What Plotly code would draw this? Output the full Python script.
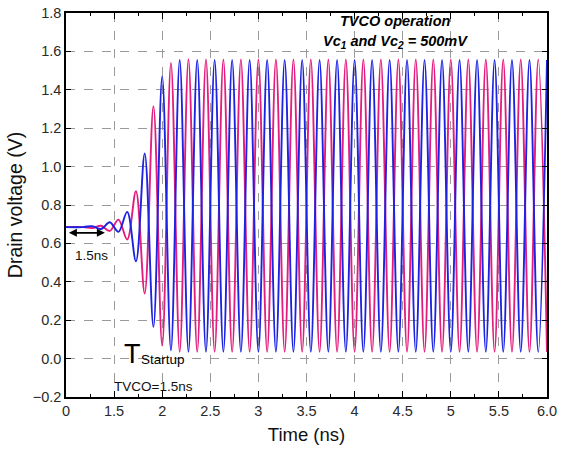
import plotly.graph_objects as go

# Extreme points (peaks / troughs), axis units: ns (axis starts at 1.0, labelled "0"), volts
t_ext = [1.000, 1.180, 1.273, 1.364, 1.455, 1.545, 1.636, 1.727, 1.818, 1.909,
         2.000, 2.091, 2.182, 2.273, 2.364, 2.455, 2.545, 2.636, 2.727, 2.818,
         2.909, 3.000, 3.091, 3.182, 3.273, 3.364, 3.455, 3.545, 3.636, 3.727,
         3.818, 3.909, 4.000, 4.091, 4.182, 4.273, 4.364, 4.455, 4.545, 4.636,
         4.727, 4.818, 4.909, 5.000, 5.091, 5.182, 5.273, 5.364, 5.455, 5.545,
         5.636, 5.727, 5.818, 5.909, 6.000]

blue_v = [0.685, 0.685, 0.690, 0.675, 0.710, 0.660, 0.764, 0.507, 1.068, 0.165,
          1.470, 0.043, 1.555, 0.035, 1.555, 0.035, 1.555, 0.035, 1.555, 0.035,
          1.555, 0.035, 1.555, 0.035, 1.555, 0.035, 1.555, 0.035, 1.555, 0.035,
          1.555, 0.035, 1.555, 0.035, 1.555, 0.035, 1.555, 0.035, 1.555, 0.035,
          1.555, 0.035, 1.555, 0.035, 1.555, 0.035, 1.555, 0.035, 1.555, 0.035,
          1.555, 0.035, 1.555, 0.035, 1.555]

pink_v = [0.685, 0.685, 0.680, 0.692, 0.665, 0.724, 0.620, 0.872, 0.339, 1.315,
          0.068, 1.540, 0.035, 1.560, 0.035, 1.558, 0.035, 1.558, 0.035, 1.558,
          0.035, 1.558, 0.035, 1.558, 0.035, 1.558, 0.035, 1.558, 0.035, 1.558,
          0.035, 1.558, 0.035, 1.558, 0.035, 1.558, 0.035, 1.558, 0.035, 1.558,
          0.035, 1.558, 0.035, 1.558, 0.035, 1.558, 0.035, 1.558, 0.035, 1.558,
          0.035, 1.558, 0.035, 1.558, 0.035]

x_tickvals = [1.0, 1.5, 2.0, 2.5, 3.0, 3.5, 4.0, 4.5, 5.0, 5.5, 6.0]
x_ticktext = ["0", "1.5", "2", "2.5", "3", "3.5", "4", "4.5", "5", "5.5", "6.0"]

FONT = "Liberation Sans, Arial, sans-serif"

fig = go.Figure()
fig.add_trace(go.Scatter(x=t_ext, y=pink_v, mode="lines",
                         line=dict(color="#e31d7d", width=1.9, shape="spline", smoothing=1.0),
                         showlegend=False))
fig.add_trace(go.Scatter(x=t_ext, y=blue_v, mode="lines",
                         line=dict(color="#1b22e2", width=1.9, shape="spline", smoothing=1.0),
                         showlegend=False))

axis_common = dict(showline=True, linecolor="black", linewidth=1.5, mirror="ticks",
                   ticks="inside", tickcolor="black", tickwidth=1.2, automargin=False,
                   showgrid=True, gridcolor="#9a9a9a", gridwidth=1.3, griddash="dash",
                   zeroline=False, tickfont=dict(family=FONT, size=14.5, color="#2a2a2a"))

fig.update_xaxes(range=[1.0, 6.0], tickvals=x_tickvals, ticktext=x_ticktext, ticklen=6,
                 minor=dict(ticks="inside", ticklen=3, tickcolor="black", tick0=1.0, dtick=0.25, showgrid=False),
                 title=dict(text="Time (ns)", font=dict(family=FONT, size=18.5, color="#111"), standoff=10),
                 **axis_common)
fig.update_yaxes(range=[-0.2, 1.8], dtick=0.2, tick0=0, tickformat=".1f", ticklen=5,
                 title=dict(text="Drain voltage (V)", font=dict(family=FONT, size=19.5, color="#111"), standoff=5),
                 **axis_common)

ann = [
    dict(x=4.42, y=1.757, text="<b><i>TVCO operation</i></b>", showarrow=False,
         font=dict(family=FONT, size=14.5, color="black")),
    dict(x=4.42, y=1.650, text="<b><i>Vc<sub>1</sub> and Vc<sub>2</sub> = 500mV</i></b>", showarrow=False,
         font=dict(family=FONT, size=14.5, color="black")),
    dict(x=1.03, y=0.655, ax=1.42, ay=0.655, xref="x", yref="y", axref="x", ayref="y",
         text="", showarrow=True, arrowhead=2, arrowside="end+start", arrowsize=1, arrowwidth=1.6,
         arrowcolor="black"),
    dict(x=1.26, y=0.535, text="1.5ns", showarrow=False, font=dict(family=FONT, size=13.5, color="#111")),
    dict(x=1.69, y=0.025, text="T", showarrow=False, font=dict(family=FONT, size=27, color="black")),
    dict(x=1.755, y=-0.005, text="Startup", showarrow=False, xanchor="left",
         font=dict(family=FONT, size=13.5, color="black")),
    dict(x=1.91, y=-0.145, text="TVCO=1.5ns", showarrow=False, font=dict(family=FONT, size=13.5, color="#111")),
]
fig.update_layout(width=563, height=455, margin=dict(l=66, r=16, t=13, b=58),
                  paper_bgcolor="white", plot_bgcolor="white", annotations=ann,
                  font=dict(family=FONT))

fig.write_html("out.html")
